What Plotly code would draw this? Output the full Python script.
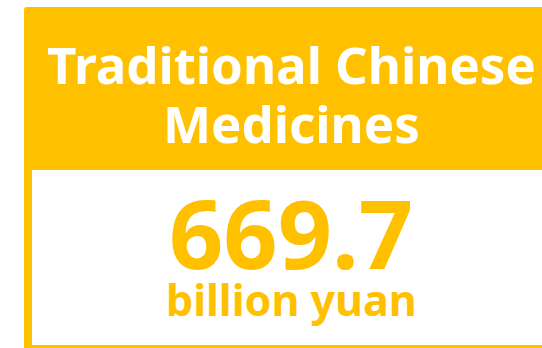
import plotly.graph_objects as go

# Data
title_lines = ["Traditional Chinese", "Medicines"]
value = 669.7
unit = "billion yuan"

GOLD = "#FFC000"
W, H = 542, 348

fig = go.Figure()

# outer gold box (extends beyond the visible area, clipped)
fig.add_shape(type="path",
              path="M 24,420 L 24,10 Q 24,7 27,7 L 620,7 L 620,420 Z",
              xref="x", yref="y", fillcolor=GOLD, line=dict(width=0), layer="below")
# white body
fig.add_shape(type="rect", x0=32, x1=620, y0=170, y1=345,
              xref="x", yref="y", fillcolor="white", line=dict(width=0), layer="below")

cx = 291
fig.add_annotation(x=cx, y=64, text=title_lines[0], showarrow=False, xref="x", yref="y",
                   xanchor="center", yanchor="middle",
                   font=dict(family="Noto Sans", size=51, color="white", weight="bold"))
fig.add_annotation(x=cx, y=123, text=title_lines[1], showarrow=False, xref="x", yref="y",
                   xanchor="center", yanchor="middle",
                   font=dict(family="Noto Sans", size=51, color="white", weight="bold"))
fig.add_annotation(x=cx, y=232, text=f"{value:.1f}", showarrow=False, xref="x", yref="y",
                   xanchor="center", yanchor="middle",
                   font=dict(family="Noto Sans", size=95, color=GOLD, weight="bold"))
fig.add_annotation(x=cx, y=299, text=unit, showarrow=False, xref="x", yref="y",
                   xanchor="center", yanchor="middle",
                   font=dict(family="Noto Sans", size=43, color=GOLD, weight="bold"))

fig.update_layout(
    width=W, height=H, margin=dict(l=0, r=0, t=0, b=0),
    paper_bgcolor="white", plot_bgcolor="white", showlegend=False,
    xaxis=dict(range=[0, W], visible=False, fixedrange=True),
    yaxis=dict(range=[H, 0], visible=False, fixedrange=True),
)
fig.write_html("out.html", config={"displayModeBar": False})
